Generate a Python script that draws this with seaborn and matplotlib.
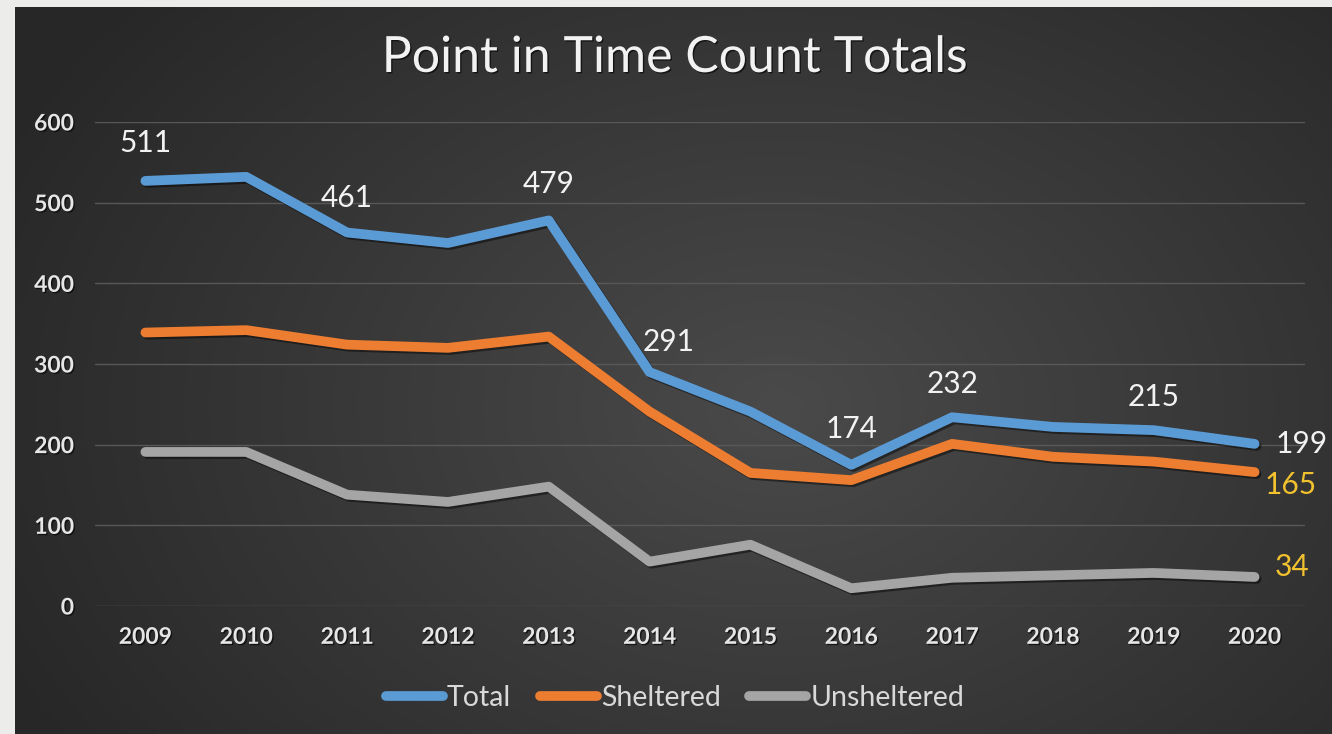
import numpy as np
import pandas as pd
import matplotlib
matplotlib.use("Agg")
import matplotlib.pyplot as plt
import matplotlib.patheffects as pe
from matplotlib.lines import Line2D
import seaborn as sns

years = ["2009", "2010", "2011", "2012", "2013", "2014",
         "2015", "2016", "2017", "2018", "2019", "2020"]
total = [527, 532, 463, 450, 478, 290, 241, 175, 234, 222, 218, 201]
sheltered = [339, 342, 324, 320, 334, 241, 165, 156, 201, 185, 179, 166]
unsheltered = [191, 191, 138, 129, 148, 55, 76, 22, 35, 38, 41, 36]

total_labels = ["511", "", "461", "", "479", "291", "", "174", "232", "", "215", "199"]
sheltered_labels = [""] * 11 + ["165"]
unsheltered_labels = [""] * 11 + ["34"]

series_names = ["Total", "Sheltered", "Unsheltered"]
colors = {"Total": "#5B9BD5", "Sheltered": "#ED7D31", "Unsheltered": "#A5A5A5"}

df = pd.DataFrame({
    "year": years * 3,
    "count": total + sheltered + unsheltered,
    "series": ["Total"] * 12 + ["Sheltered"] * 12 + ["Unsheltered"] * 12,
})

sns.set_style("dark")
plt.rcParams["font.family"] = ["Lato", "DejaVu Sans"]

W, H = 1332, 734
fig = plt.figure(figsize=(W / 100, H / 100), dpi=100, facecolor="#ECECEA")

# dark gradient panel
bg = fig.add_axes([15 / W, 0, 1 - 15 / W, 1 - 7 / H])
yy, xx = np.mgrid[0:1:300j, 0:1:540j]
d = np.sqrt(((xx - 0.58) / 0.65) ** 2 + ((yy - 0.55) / 0.85) ** 2)
v = 0.29 - 0.135 * np.clip(d, 0, 1)
bg.imshow(np.dstack([v, v, v]), aspect="auto", extent=(0, 1, 0, 1), origin="upper")
bg.set_axis_off()

ax = fig.add_axes([95 / W, 128 / H, 1210 / W, 484 / H])
ax.set_facecolor("none")

sns.lineplot(data=df, x="year", y="count", hue="series", hue_order=series_names,
             palette=colors, linewidth=7, legend=False, ax=ax, sort=False)

shadow = [pe.SimpleLineShadow(offset=(1.5, -1.5), shadow_color="black", alpha=0.45), pe.Normal()]
for line in ax.lines:
    line.set_solid_capstyle("round")
    line.set_solid_joinstyle("round")
    line.set_path_effects(shadow)
    line.set_clip_on(False)

ax.set_xlim(-0.5, 11.5)
ax.set_ylim(0, 600)
ax.set_yticks(range(0, 601, 100))
ax.grid(axis="y", color="#585858", linewidth=1)
ax.grid(axis="x", visible=False)
for s in ax.spines.values():
    s.set_visible(False)
ax.set_xlabel("")
ax.set_ylabel("")

txt_shadow = [pe.withSimplePatchShadow(offset=(1, -1), shadow_rgbFace="black", alpha=0.6)]
ax.tick_params(axis="both", length=0, labelcolor="#E6E6E6")
ax.tick_params(axis="y", pad=15, labelsize=16.5)
ax.tick_params(axis="x", pad=15, labelsize=16.5)
for lab in ax.get_xticklabels() + ax.get_yticklabels():
    lab.set_fontweight("bold")
    lab.set_path_effects(txt_shadow)

# data labels
label_offsets = {"511": (0, 27), "461": (0, 25), "479": (0, 26), "291": (14, 22),
                 "174": (0, 26), "232": (0, 24), "215": (0, 24)}
for i, lab in enumerate(total_labels):
    if not lab:
        continue
    if lab == "199":
        ax.annotate(lab, (i, total[i]), xytext=(15, 0), textcoords="offset points",
                    ha="left", va="center", fontsize=21.5, color="#F2F2F2")
    else:
        ax.annotate(lab, (i, total[i]), xytext=label_offsets[lab], textcoords="offset points",
                    ha="center", va="center", fontsize=21.5, color="#F2F2F2")
for i, lab in enumerate(sheltered_labels):
    if lab:
        ax.annotate(lab, (i, sheltered[i]), xytext=(26, -9), textcoords="offset points",
                    ha="center", va="center", fontsize=21.5, color="#F2C12E")
for i, lab in enumerate(unsheltered_labels):
    if lab:
        ax.annotate(lab, (i, unsheltered[i]), xytext=(27, 7), textcoords="offset points",
                    ha="center", va="center", fontsize=21.5, color="#F2C12E")

handles = [Line2D([], [], color=colors[n], linewidth=7, solid_capstyle="round") for n in series_names]
fig.legend(handles, series_names, loc="center", bbox_to_anchor=(675 / W, 1 - 698 / H),
           ncol=3, frameon=False, fontsize=20.5, labelcolor="#D9D9D9",
           handlelength=2.0, handletextpad=0.15, columnspacing=1.0)

fig.text(675 / W, 1 - 58 / H, "Point in Time Count Totals", ha="center", va="center",
         fontsize=36, color="#F2F2F2", path_effects=txt_shadow)

fig.savefig("out.png", dpi=100, facecolor=fig.get_facecolor())
